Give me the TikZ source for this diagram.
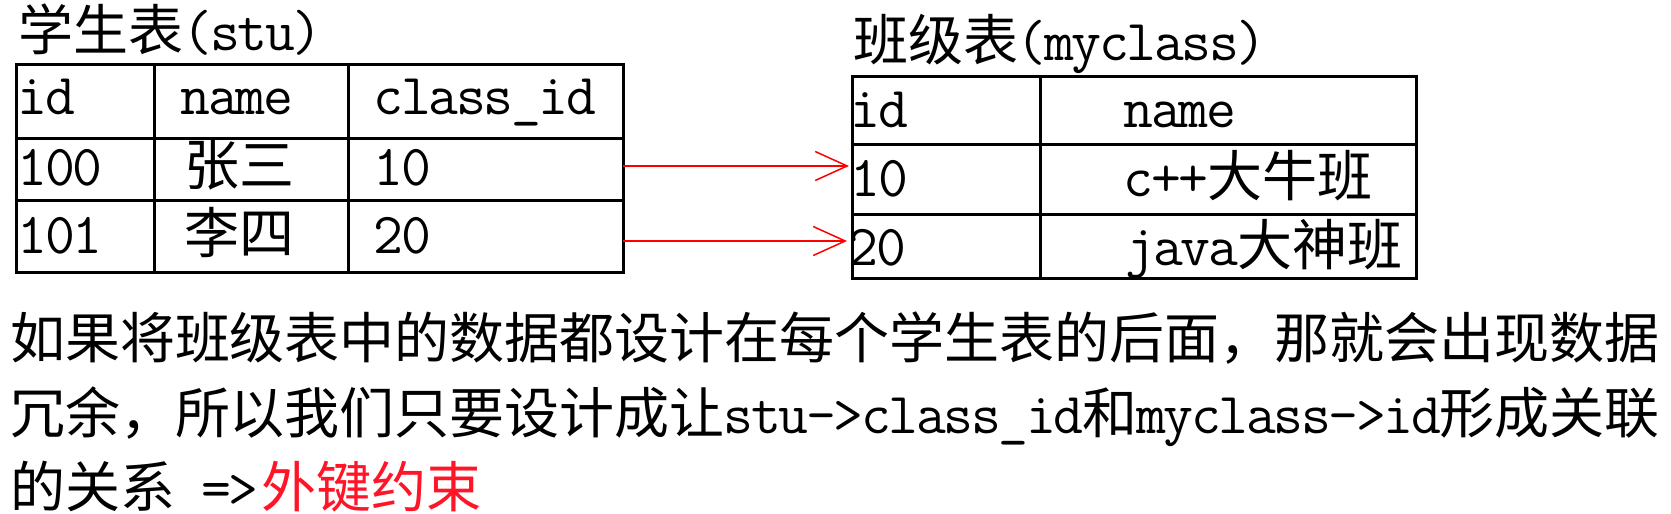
\documentclass[tikz,border=0pt]{standalone}
\usepackage{fontspec}
\usetikzlibrary{arrows.meta}
\newfontfamily\cjkfont{Noto Sans CJK SC}
\newcommand\Zh[1]{{\fontsize{55pt}{60pt}\selectfont\cjkfont #1}}
\def\monoloop#1{\ifx#1\relax\else\makebox[27.5pt][c]{#1}\expandafter\monoloop\fi}
\newcommand\Tt[1]{{\fontsize{58pt}{60pt}\selectfont\ttfamily\monoloop#1\relax}}
\definecolor{fkred}{RGB}{255,0,0}
\definecolor{fktext}{RGB}{255,20,40}
\tikzset{
  tbl/.style={draw=black, line width=3pt, rectangle, inner sep=0pt, anchor=north west},
  gridline/.style={draw=black, line width=3pt},
  txt/.style={anchor=base west, inner sep=0pt, outer sep=0pt},
  fkarrow/.style={draw=fkred, line width=2.2pt, -{Straight Barb[length=32pt,width=29pt,line width=1.5pt]}}
}
\begin{document}
\begin{tikzpicture}[x=1pt,y=-1pt]
\useasboundingbox (0,0) rectangle (1671,514);
\fill[white] (0,0) rectangle (1671,514);

% titles
\node[txt] (t1) at (19,50) {\Zh{学生表}\Tt{(stu)}};
\node[txt] (t2) at (853,60) {\Zh{班级表}\Tt{(myclass)}};

% student table
\node[tbl, minimum width=607.3pt, minimum height=208pt] (stu) at (14.7,62.7) {};
\draw[gridline] (154,62.7) -- (154,270.7);
\draw[gridline] (348,62.7) -- (348,270.7);
\draw[gridline] (14.7,138) -- (621.9,138);
\draw[gridline] (14.7,200) -- (621.9,200);

\node[txt] (s11) at (19,114) {\Tt{id}};
\node[txt] (s12) at (182,114) {\Tt{name}};
\node[txt] (s13) at (375,114) {\Tt{class\_id}};
\node[txt] (s21) at (19,185) {\Tt{100}};
\node[txt] (s22) at (184,185) {\Zh{张三}};
\node[txt] (s23) at (375,185) {\Tt{10}};
\node[txt] (s31) at (19,253) {\Tt{101}};
\node[txt] (s32) at (184,253) {\Zh{李四}};
\node[txt] (s33) at (375,253) {\Tt{20}};

% class table
\node[tbl, minimum width=564.3pt, minimum height=202.5pt] (mycl) at (850.7,74.5) {};
\draw[gridline] (1040.7,74.5) -- (1040.7,277);
\draw[gridline] (850.7,144) -- (1415,144);
\draw[gridline] (850.7,214) -- (1415,214);

\node[txt] (m11) at (852,127) {\Tt{id}};
\node[txt] (m12) at (1125,127) {\Tt{name}};
\node[txt] (m21) at (852,196) {\Tt{10}};
\node[txt] (m22) at (1125,196) {\Tt{c++}\Zh{大牛班}};
\node[txt] (m31) at (850,265) {\Tt{20}};
\node[txt] (m32) at (1127,265) {\Tt{java}\Zh{大神班}};

% foreign key arrows
\coordinate (a1s) at (623,166);
\coordinate (a1e) at (849,166);
\coordinate (a2s) at (623,241);
\coordinate (a2e) at (847,241);
\draw[fkarrow] (a1s) -- (a1e);
\draw[fkarrow] (a2s) -- (a2e);

% explanation
\node[txt] (l1) at (10,358) {\Zh{如果将班级表中的数据都设计在每个学生表的后面，那就会出现数据}};
\node[txt] (l2) at (10,433) {\Zh{冗余，所以我们只要设计成让}\Tt{stu->class\_id}\Zh{和}\Tt{myclass->id}\Zh{形成关联}};
\node[txt] (l3) at (10,507) {\Zh{的关系}\kern27.5pt\Tt{=>}\kern4pt\textcolor{fktext}{\Zh{外键约束}}};
\end{tikzpicture}
\end{document}
